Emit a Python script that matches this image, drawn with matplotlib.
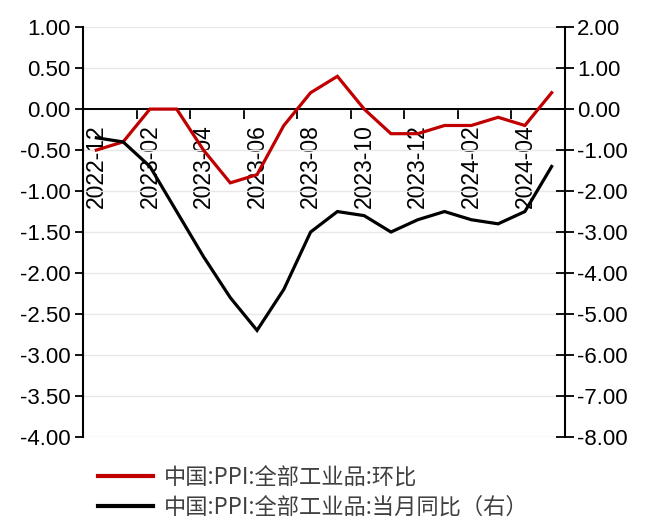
import numpy as np
import matplotlib.pyplot as plt
from matplotlib.lines import Line2D
from matplotlib.ticker import FixedLocator, FuncFormatter

# China PPI, all industrial products (%)
months = ["2022-12", "2023-01", "2023-02", "2023-03", "2023-04", "2023-05",
          "2023-06", "2023-07", "2023-08", "2023-09", "2023-10", "2023-11",
          "2023-12", "2024-01", "2024-02", "2024-03", "2024-04", "2024-05"]
ppi_mom = [-0.5, -0.4, 0.0, 0.0, -0.5, -0.9, -0.8, -0.2, 0.2, 0.4,
           0.0, -0.3, -0.3, -0.2, -0.2, -0.1, -0.2, 0.2]
ppi_yoy = [-0.7, -0.8, -1.4, -2.5, -3.6, -4.6, -5.4, -4.4, -3.0, -2.5,
           -2.6, -3.0, -2.7, -2.5, -2.7, -2.8, -2.5, -1.4]

label_mom = "中国:PPI:全部工业品:环比"
label_yoy = "中国:PPI:全部工业品:当月同比（右）"

RED = "#C00000"
NUM_FONT = "Liberation Sans"
CJK_FONT = ["Noto Sans CJK SC", "DejaVu Sans"]

fig = plt.figure(figsize=(6.48, 5.22), dpi=100)
ax = fig.add_axes([0.128, 0.163, 0.744, 0.785])
ax2 = ax.twinx()

x = np.arange(len(months))

ax.plot(x, ppi_mom, color=RED, lw=2.3, solid_joinstyle="miter", zorder=3)
ax2.plot(x, ppi_yoy, color="black", lw=2.3, solid_joinstyle="miter", zorder=3)

# left axis
ax.set_xlim(-0.5, len(months) - 0.5)
ax.set_ylim(-4.0, 1.0)
ax.set_yticks(np.arange(-4.0, 1.01, 0.5))
ax.yaxis.set_major_formatter(FuncFormatter(lambda v, p: f"{v:.2f}"))
ax.grid(axis="y", color="#e8e8e8", lw=1.0)
ax.set_axisbelow(True)

# right axis
ax2.set_ylim(-8.0, 2.0)
ax2.set_yticks(np.arange(-8.0, 2.01, 1.0))
ax2.yaxis.set_major_formatter(FuncFormatter(lambda v, p: f"{v:.2f}"))

for a in (ax, ax2):
    for side in ("top", "bottom"):
        a.spines[side].set_visible(False)
ax.spines["right"].set_visible(False)
ax2.spines["left"].set_visible(False)
ax.spines["left"].set_linewidth(1.5)
ax2.spines["right"].set_linewidth(1.5)

ax.tick_params(axis="y", direction="out", length=6, width=1.3, pad=3,
               labelsize=16)
ax2.tick_params(axis="y", direction="inout", length=13, width=1.3, pad=2,
                labelsize=16)
for lbl in ax.get_yticklabels() + ax2.get_yticklabels():
    lbl.set_fontfamily(NUM_FONT)

# x axis runs along zero, category labels hang below it
ax.axhline(0, color="black", lw=1.4, zorder=2)
ax.xaxis.set_major_locator(FixedLocator(x[::2]))
ax.xaxis.set_minor_locator(FixedLocator(np.arange(1.5, len(months) - 1, 2)))
ax.set_xticklabels(months[::2])
ax.tick_params(axis="x", which="major", length=0, pad=11)
ax.tick_params(axis="x", which="minor", length=7, width=1.3, direction="out")
ax.spines["bottom"].set_visible(True)
ax.spines["bottom"].set_position(("data", 0))
ax.spines["bottom"].set_linewidth(0)
for lbl in ax.get_xticklabels():
    lbl.set_rotation(90)
    lbl.set_fontfamily(NUM_FONT)
    lbl.set_fontsize(16.5)
    lbl.set_va("top")
    lbl.set_ha("center")

handles = [Line2D([], [], color=RED, lw=3),
           Line2D([], [], color="black", lw=3)]
fig.legend(handles, [label_mom, label_yoy], loc="upper left",
           bbox_to_anchor=(0.151, 0.107), frameon=False, borderpad=0,
           borderaxespad=0, handlelength=2.5, handletextpad=0.45,
           labelspacing=0.3, labelcolor="#404040",
           prop={"family": CJK_FONT, "size": 16})

fig.savefig("out.png", dpi=100)
